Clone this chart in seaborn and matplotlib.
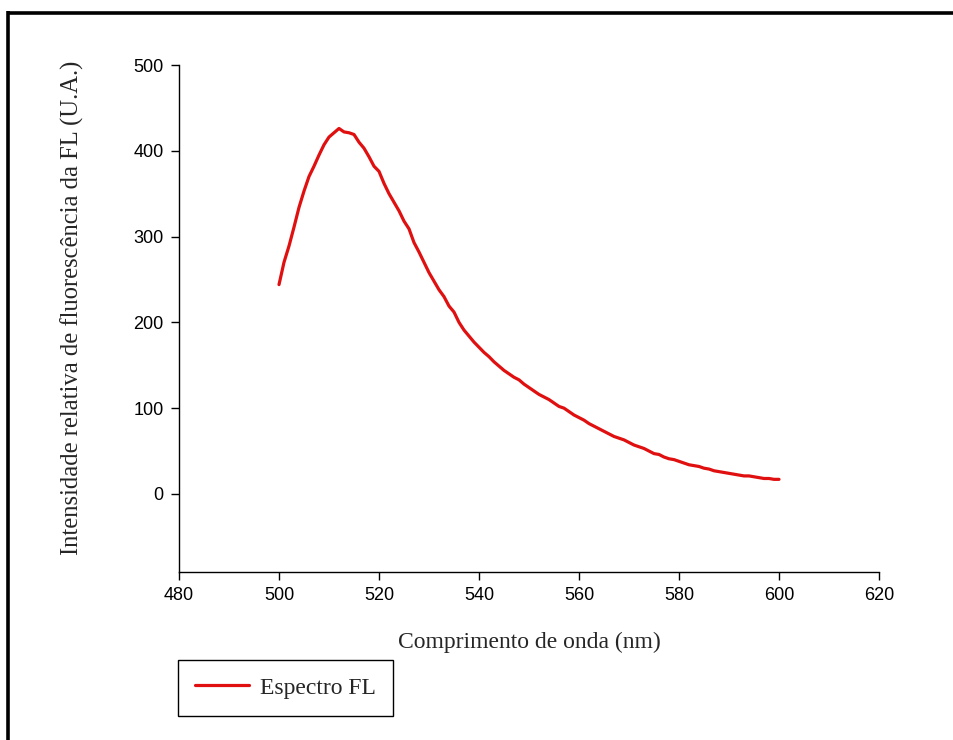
import numpy as np
import pandas as pd
import matplotlib
matplotlib.use("Agg")
import matplotlib.pyplot as plt
from matplotlib.lines import Line2D
import seaborn as sns

wavelength = list(range(500, 601))
intensity = [
    244, 270, 289, 311, 334, 353, 370, 382, 395, 407,
    416, 421, 426, 422, 421, 419, 410, 403, 393, 382,
    376, 362, 350, 340, 330, 318, 309, 293, 282, 270,
    258, 248, 238, 230, 219, 212, 200, 191, 184, 177,
    171, 165, 160, 154, 149, 144, 140, 136, 133, 128,
    124, 120, 116, 113, 110, 106, 102, 100, 96, 92,
    89, 86, 82, 79, 76, 73, 70, 67, 65, 63,
    60, 57, 55, 53, 50, 47, 46, 43, 41, 40,
    38, 36, 34, 33, 32, 30, 29, 27, 26, 25,
    24, 23, 22, 21, 21, 20, 19, 18, 18, 17,
    17,
]
series_name = "Espectro FL"
x_ticks = [480, 500, 520, 540, 560, 580, 600, 620]
y_ticks = [0, 100, 200, 300, 400, 500]
x_label = "Comprimento de onda (nm)"
y_label = "Intensidade relativa de fluorescência da FL (U.A.)"

df = pd.DataFrame({"x": wavelength, "y": intensity, "s": series_name})

sns.set_style("ticks")
plt.rcParams["font.family"] = ["Liberation Sans", "DejaVu Sans"]

fig = plt.figure(figsize=(9.54, 7.40), dpi=100)
ax = fig.add_axes([179/954, 1-572/740, 700/954, (572-65)/740])

sns.lineplot(data=df, x="x", y="y", hue="s", palette=["#e01010"],
             linewidth=2.3, ax=ax, legend=True)

ax.set_xlim(480, 620)
ax.set_ylim(-91, 500)
ax.set_xticks(x_ticks)
ax.set_yticks(y_ticks)
ax.tick_params(axis="both", direction="out", length=6, width=1, color="black",
               labelsize=13, labelcolor="black", pad=5)
for sp in ["top", "right"]:
    ax.spines[sp].set_visible(False)
for sp in ["left", "bottom"]:
    ax.spines[sp].set_color("black")
    ax.spines[sp].set_linewidth(1)

ax.set_xlabel("")
ax.set_ylabel("")
fig.text(529/954, 1-642/740, x_label, ha="center", va="center",
         fontsize=17, family=["Liberation Serif", "DejaVu Serif"])
fig.text(72/954, 1-308/740, y_label, ha="center", va="center", rotation=90,
         fontsize=17.7, family=["Liberation Serif", "DejaVu Serif"])

ax.get_legend().remove()
handles = [Line2D([], [], color="#e01010", linewidth=2.3)]
leg = fig.legend(handles, [series_name], loc="upper left",
                 bbox_to_anchor=(178/954, 1-660/740), frameon=True,
                 fancybox=False, edgecolor="black", framealpha=1,
                 prop={"family": "Liberation Serif", "size": 17},
                 handlelength=2.3, borderpad=0.72, handletextpad=0.45,
                 borderaxespad=0)
leg.get_frame().set_linewidth(1)

# outer frame (top and left edges)
fig.add_artist(Line2D([7.5/954, 1], [1-12.5/740, 1-12.5/740], color="black",
                      linewidth=2.6, solid_capstyle="butt", transform=fig.transFigure))
fig.add_artist(Line2D([8.5/954, 8.5/954], [0, 1-11/740], color="black",
                      linewidth=2.6, solid_capstyle="butt", transform=fig.transFigure))

fig.savefig("out.png", dpi=100)
